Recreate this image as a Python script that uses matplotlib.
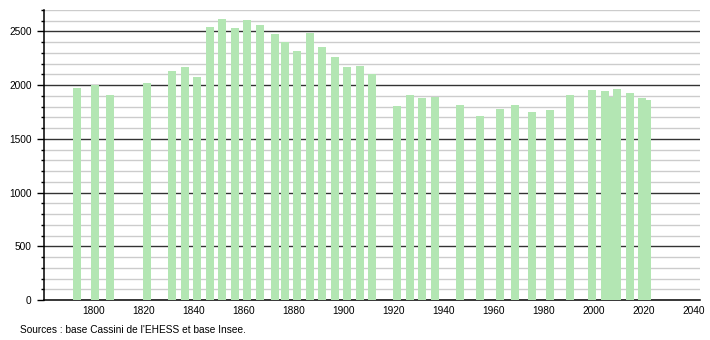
import numpy as np
import matplotlib
matplotlib.use("Agg")
import matplotlib.pyplot as plt

years = [1793, 1800, 1806, 1821, 1831, 1836, 1841, 1846, 1851, 1856, 1861, 1866,
         1872, 1876, 1881, 1886, 1891, 1896, 1901, 1906, 1911, 1921, 1926, 1931,
         1936, 1946, 1954, 1962, 1968, 1975, 1982, 1990, 1999, 2004, 2007, 2009,
         2014, 2019, 2021]
population = [1975, 2000, 1907, 2022, 2134, 2168, 2078, 2545, 2617, 2536, 2607, 2564,
              2480, 2402, 2321, 2483, 2358, 2265, 2171, 2181, 2100, 1804, 1907, 1882,
              1891, 1816, 1713, 1779, 1816, 1751, 1769, 1907, 1956, 1947, 1894, 1966,
              1928, 1882, 1863]
source = "Sources : base Cassini de l'EHESS et base Insee."

plt.rcParams['font.family'] = ['Liberation Sans', 'DejaVu Sans']

fig = plt.figure(figsize=(7.1, 3.4), dpi=100)
ax = fig.add_axes([44 / 710, 40 / 340, 656 / 710, 290 / 340])

ax.bar(np.array(years) + 0.3, population, width=3.3, color='#b3e6b3',
       edgecolor='none', zorder=3)

ax.set_xlim(1780, 2042.4)
ax.set_ylim(0, 2700)

# grid: light every 100, dark every 500
for v in range(100, 2701, 100):
    if v % 500 == 0:
        ax.axhline(v, color='#333333', linewidth=1.0, zorder=1)
    else:
        ax.axhline(v, color='#cccccc', linewidth=1.0, zorder=1)

ax.set_yticks(range(0, 2701, 500))
ax.set_yticks(range(0, 2701, 100), minor=True)
ax.set_xticks(range(1800, 2041, 20))
ax.tick_params(axis='y', which='major', length=5, width=1, labelsize=7.3, pad=4)
ax.tick_params(axis='y', which='minor', length=2.5, width=1)
ax.tick_params(axis='x', length=0, labelsize=7.3, pad=4)

for s in ['top', 'right']:
    ax.spines[s].set_visible(False)
ax.spines['left'].set_linewidth(1.1)
ax.spines['bottom'].set_linewidth(1.1)

fig.text(20 / 710, 1 - 330 / 340, source, fontsize=7.3, va='center', ha='left')

fig.savefig("out.png", dpi=100)
